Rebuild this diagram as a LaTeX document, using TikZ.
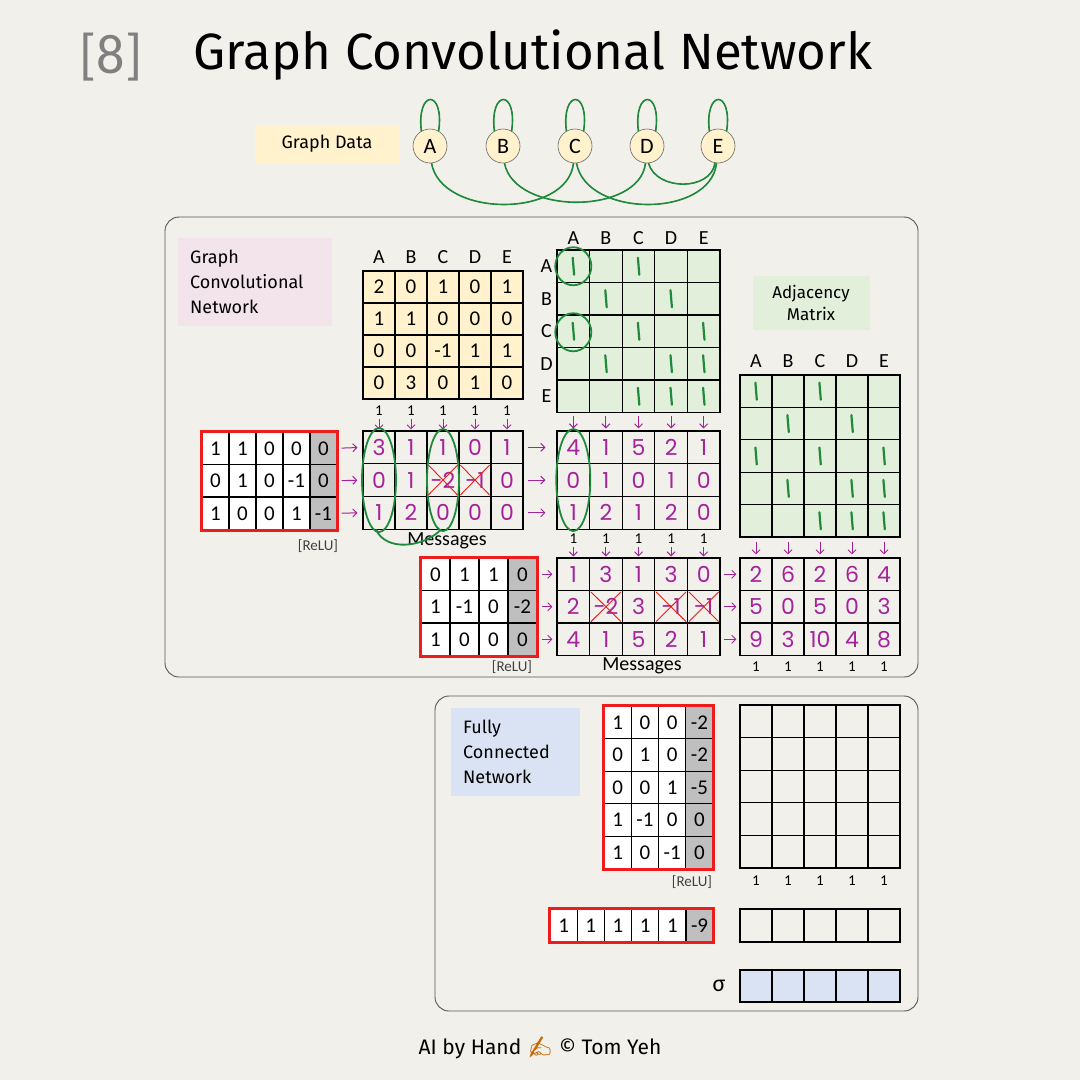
\documentclass[tikz,border=0pt]{standalone}
\usepackage{fontspec}
\setmainfont{Carlito}
\newfontfamily\hand{Poppins}
\newfontfamily\labfont{Fira Sans}
\newfontfamily\emoji{Noto Emoji}
\usetikzlibrary{arrows.meta,calc,fit}
\definecolor{paper}{HTML}{F2F0EB}
\definecolor{msg}{HTML}{A4229C}
\definecolor{gline}{HTML}{1F8A3C}
\definecolor{xfill}{HTML}{FFF2CC}
\definecolor{afill}{HTML}{E2EFDA}
\definecolor{pfill}{HTML}{F2E4EA}
\definecolor{bfill}{HTML}{DAE3F3}
\definecolor{biasg}{HTML}{BFBFBF}
\definecolor{rulec}{HTML}{555555}
\definecolor{xred}{HTML}{EE1C1C}
% a grid of cells: name, left, top, cell width, cell height, style, rows
\newcommand{\gridmat}[7]{%
  \foreach \row [count=\r] in {#7} {%
    \foreach \v [count=\c] in \row {%
      \node[#6,col\c,minimum width=#4,minimum height=#5] (#1-\r-\c)
        at ({#2+(\c-0.5)*#4},{#3+(\r-0.5)*#5}) {\v};
    }%
  }%
}
% the same, with no values: ..., rows, cols
\newcommand{\blankmat}[8]{%
  \foreach \r in {1,...,#7} {%
    \foreach \c in {1,...,#8} {%
      \node[#6,minimum width=#4,minimum height=#5] (#1-\r-\c)
        at ({#2+(\c-0.5)*#4},{#3+(\r-0.5)*#5}) {};
    }%
  }%
}
\tikzset{
  cell/.style={draw=black,line width=1.1pt,inner sep=0pt,font=\fontsize{21}{21}\selectfont},
  wcell/.style={cell,fill=white},
  xcell/.style={cell,fill=xfill},
  acell/.style={cell,fill=afill},
  hcell/.style={cell,font=\hand\fontsize{22}{22}\selectfont,text=msg},
  col1/.style={},col2/.style={},col3/.style={},
  col4/.style={},col5/.style={},col6/.style={},
  redbox/.style={draw=xred,line width=3pt,inner sep=0pt},
  panel/.style={draw=rulec,line width=0.9pt,rounded corners=14pt},
  tag/.style={align=left,font=\labfont\fontsize{18}{25}\selectfont,inner sep=12pt,anchor=north west},
  head/.style={font=\fontsize{20}{20}\selectfont},
  one/.style={font=\fontsize{15}{15}\selectfont},
  relu/.style={font=\fontsize{15}{15}\selectfont,text=black!75},
  marr/.style={draw=msg,line width=1pt,-{Straight Barb[length=4pt,width=8pt]}},
  gmark/.style={draw=gline,line width=2.2pt,line cap=round},
  gring/.style={draw=gline,line width=1.8pt},
  gedge/.style={draw=gline,line width=1.6pt},
  gshade/.style={draw=black!80,line width=0.6pt},
  cross/.style={draw=xred,line width=0.9pt},
  vertex/.style={circle,draw=black!60,line width=0.6pt,fill=xfill,minimum size=34pt,
    inner sep=0pt,font=\fontsize{22}{22}\selectfont},
}
\begin{document}
\begin{tikzpicture}[x=1pt,y=-1pt]
  \fill[paper] (0,0) rectangle (1080,1080);
  \useasboundingbox (0,0) rectangle (1080,1080);
  % title
  \node[font=\fontsize{56}{56}\selectfont,text=black!50,anchor=west] (num) at (76,57) {[8]};
  \node[font=\labfont\fontsize{51}{51}\selectfont,anchor=west] (title) at (190,55)
    {Graph Convolutional Network};
  % graph data
  \node[fill=xfill,minimum width=145pt,minimum height=38pt,
    font=\labfont\fontsize{18}{18}\selectfont] (gdata) at (327,144) {Graph Data};
  \foreach \n/\x in {A/430,B/503,C/575,D/647,E/718}
    \node[vertex] (\n) at (\x,146) {\n};
  \foreach \sty/\dx in {gshade/1.5,gedge/0} {
    \begin{scope}[xshift=\dx pt]
    \foreach \n in {A,B,C,D,E}
      \draw[\sty] (\n.120) .. controls +(-5,-42) and +(6,-42) .. (\n.60);
    \draw[\sty] (A.-85) .. controls +(10,55) and +(-6,55) .. (C.-95);
    \draw[\sty] (B.-85) .. controls +(10,52) and +(-6,52) .. (D.-95);
    \draw[\sty] (C.-85) .. controls +(10,55) and +(-6,55) .. (E.-95);
    \draw[\sty] (D.-85) .. controls +(8,28) and +(-4,28) .. (E.-100);
    \end{scope}
  }
  % panels
  \draw[panel] (165,217) rectangle (918,677);
  \draw[panel] (435,696) rectangle (918,1011);
  \node[tag,fill=pfill,text width=130pt,minimum height=88pt] (gcnlab) at (178,238)
    {Graph\\Convolutional\\Network};
  \node[tag,fill=bfill,text width=105pt,minimum height=87pt] (fcnlab) at (451,708)
    {Fully\\Connected\\Network};
  \node[fill=afill,minimum width=117pt,minimum height=54pt,align=center,
    font=\labfont\fontsize{17}{22}\selectfont] (adjlab) at (811,303) {Adjacency\\Matrix};

  % features
  \gridmat{x}{363}{271}{32}{32}{xcell}{{2,0,1,0,1},{1,1,0,0,0},{0,0,-1,1,1},{0,3,0,1,0}}
  \foreach \l [count=\c] in {A,B,C,D,E}
    \node[head] (xh\c) at ([yshift=13pt]x-1-\c.north) {\l};
  % first layer
  \begin{scope}[col5/.style={fill=biasg}]
  \gridmat{w1}{202}{432}{27}{32.5}{wcell}{{1,1,0,0,0},{0,1,0,-1,0},{1,0,0,1,-1}}
  \end{scope}
  \node[redbox,fit=(w1-1-1)(w1-3-5)] (w1box) {};
  \node[relu] (relu1) at (318,546) {[ReLU]};
  \gridmat{m1}{363}{431}{32}{32.7}{hcell}{{3,1,1,0,1},{0,1,-2,-1,0},{1,2,0,0,0}}
  \node[font=\fontsize{20}{20}\selectfont] (msg1) at (447,541) {Messages};
  \foreach \c in {1,...,5} {
    \node[one] (xo\c) at ([yshift=-11pt]x-4-\c.south) {1};
    \draw[marr,shorten >=1pt] (xo\c.south) -- (m1-1-\c.north);
  }
  \foreach \r in {1,2,3}
    \draw[marr,shorten <=4pt,shorten >=5pt] (w1-\r-5.east) -- (m1-\r-1.west);

  % adjacency
  \gridmat{a1}{557}{250}{32.6}{32.5}{acell}{{,,,,},{,,,,},{,,,,},{,,,,},{,,,,}}
  \gridmat{a2}{740}{375}{32}{32.4}{acell}{{,,,,},{,,,,},{,,,,},{,,,,},{,,,,}}
  \foreach \l [count=\c] in {A,B,C,D,E} {
    \node[head] (a1h\c) at ([yshift=11pt]a1-1-\c.north) {\l};
    \node[head] (a1v\c) at ([xshift=-10pt]a1-\c-1.west) {\l};
    \node[head] (a2h\c) at ([yshift=13pt]a2-1-\c.north) {\l};
  }
  \foreach \r/\c in {1/1,1/3,2/2,2/4,3/1,3/3,3/5,4/2,4/4,4/5,5/3,5/4,5/5} {
    \draw[gmark] ([xshift=-0.6pt,yshift=8.5pt]a1-\r-\c.center) -- ([xshift=0.8pt,yshift=-8.5pt]a1-\r-\c.center);
    \draw[gmark] ([xshift=-0.6pt,yshift=8.5pt]a2-\r-\c.center) -- ([xshift=0.8pt,yshift=-8.5pt]a2-\r-\c.center);
  }
  \gridmat{h1}{557}{431}{32.6}{32.7}{hcell}{{4,1,5,2,1},{0,1,0,1,0},{1,2,1,2,0}}
  \foreach \c in {1,...,5}
    \draw[marr,shorten <=3pt,shorten >=2pt] (a1-5-\c.south) -- (h1-1-\c.north);
  \foreach \r in {1,2,3}
    \draw[marr,shorten <=4pt,shorten >=11pt] (m1-\r-5.east) -- (h1-\r-1.west);

  % second layer
  \begin{scope}[col4/.style={fill=biasg}]
  \gridmat{w2}{421}{558}{29}{32.5}{wcell}{{0,1,1,0},{1,-1,0,-2},{1,0,0,0}}
  \end{scope}
  \node[redbox,fit=(w2-1-1)(w2-3-4)] (w2box) {};
  \node[relu] (relu2) at (512,667) {[ReLU]};
  \gridmat{m2}{557}{558}{32.6}{32.5}{hcell}{{1,3,1,3,0},{2,-2,3,-1,-1},{4,1,5,2,1}}
  \node[font=\fontsize{20}{20}\selectfont] (msg2) at (642,666) {Messages};
  \foreach \c in {1,...,5} {
    \node[one] (ho\c) at ([yshift=-9pt]h1-3-\c.south) {1};
    \draw[marr,shorten >=1pt] (ho\c.south) -- (m2-1-\c.north);
  }
  \foreach \r in {1,2,3}
    \draw[marr,shorten <=4pt,shorten >=4pt] (w2-\r-4.east) -- (m2-\r-1.west);
  \gridmat{h2}{740}{558}{32}{32.5}{hcell}{{2,6,2,6,4},{5,0,5,0,3},{9,3,10,4,8}}
  \foreach \c in {1,...,5} {
    \draw[marr,shorten <=4pt,shorten >=3pt] (a2-5-\c.south) -- (h2-1-\c.north);
    \node[one] (h2o\c) at ([yshift=-11pt]h2-3-\c.south) {1};
  }
  \foreach \r in {1,2,3}
    \draw[marr,shorten <=3pt,shorten >=3pt] (m2-\r-5.east) -- (h2-\r-1.west);

  % picks in green
  \draw[gring] (a1-1-1) ellipse [x radius=18pt,y radius=19pt];
  \draw[gring] ([yshift=-1pt]a1-3-1) ellipse [x radius=18pt,y radius=19pt];
  \draw[gring] (m1-2-1) ellipse [x radius=17pt,y radius=52pt];
  \draw[gring] (m1-2-3) ellipse [x radius=16pt,y radius=51pt];
  \draw[gring] (h1-2-1) ellipse [x radius=17pt,y radius=51pt];
  \draw[gring] ([xshift=-3pt]m1-3-1.south) .. controls +(10,22) and +(-18,18) .. ([xshift=-2pt]m1-3-3.south);
  % crossed out
  \foreach \m/\c in {m1/3,m1/4,m2/2,m2/4,m2/5} {
    \draw[cross] ([xshift=2pt,yshift=-2pt]\m-2-\c.north west) -- ([xshift=-2pt,yshift=2pt]\m-2-\c.south east);
    \draw[cross] ([xshift=-2pt,yshift=-2pt]\m-2-\c.north east) -- ([xshift=2pt,yshift=2pt]\m-2-\c.south west);
  }

  % fully connected
  \begin{scope}[col4/.style={fill=biasg}]
  \gridmat{w3}{604}{706}{27.25}{32.6}{wcell}{{1,0,0,-2},{0,1,0,-2},{0,0,1,-5},{1,-1,0,0},{1,0,-1,0}}
  \end{scope}
  \node[redbox,fit=(w3-1-1)(w3-5-4)] (w3box) {};
  \node[relu] (relu3) at (692,882) {[ReLU]};
  \blankmat{e1}{740}{705}{32}{32.6}{cell}{5}{5}
  \foreach \c in {1,...,5}
    \node[one] (e1o\c) at ([yshift=-12pt]e1-5-\c.south) {1};
  \begin{scope}[col6/.style={fill=biasg}]
  \gridmat{w4}{550}{909}{27.2}{33}{wcell}{{1,1,1,1,1,-9}}
  \end{scope}
  \node[redbox,fit=(w4-1-1)(w4-1-6)] (w4box) {};
  \blankmat{e2}{740}{909}{32}{33}{cell}{1}{5}
  \blankmat{s}{740}{970}{32}{32}{cell,fill=bfill}{1}{5}
  \node[font=\fontsize{24}{24}\selectfont] (sig) at (719,986) {σ};

  % credit
  \node[font=\labfont\fontsize{21}{21}\selectfont] (credit) at (540,1048)
    {AI by Hand {\emoji\color{orange!80!black}✍} © Tom Yeh};
\end{tikzpicture}
\end{document}
